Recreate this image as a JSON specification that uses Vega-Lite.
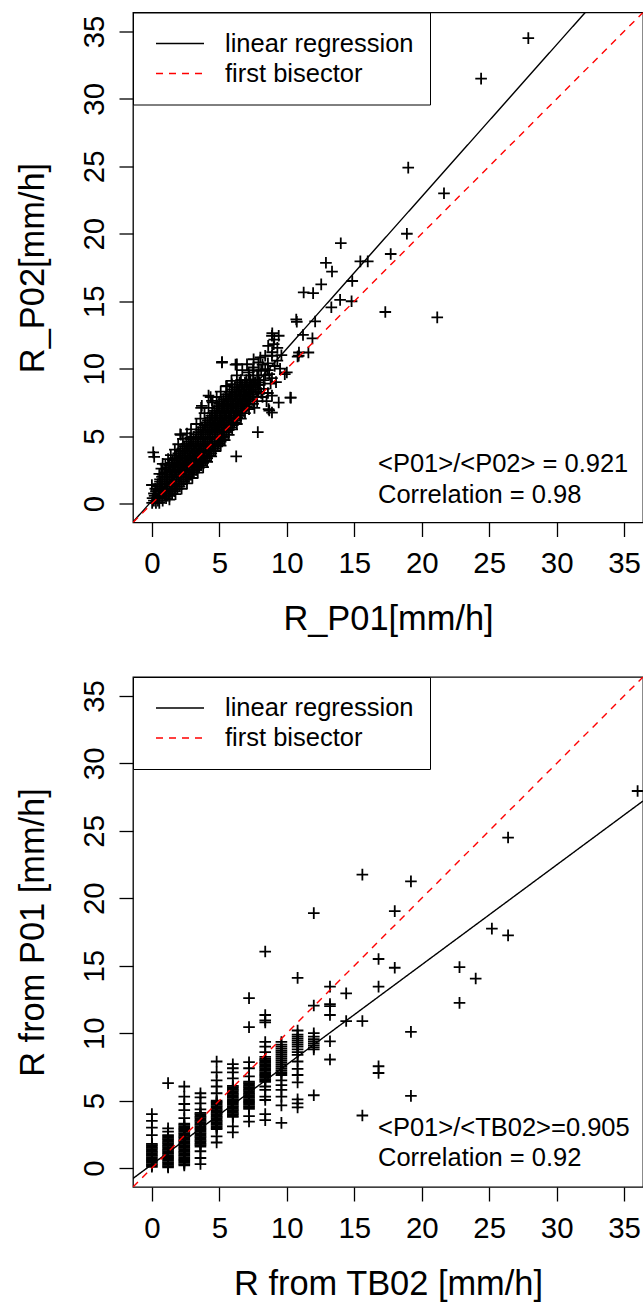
{
  "$schema": "https://vega.github.io/schema/vega-lite/v6.json",
  "background": "white",
  "padding": {"left": 14, "top": 10.5, "right": 2, "bottom": 1},
  "spacing": 154.5,
  "bounds": "flush",
  "config": {
    "font": "Liberation Sans",
    "view": {"stroke": "black", "strokeWidth": 1.3},
    "axis": {"grid": false, "domain": false, "tickColor": "black", "tickSize": 14, "tickWidth": 1.3, "labelFontSize": 29.4, "labelColor": "black", "labelFont": "Liberation Sans", "titleFont": "Liberation Sans", "titleFontSize": 34.4, "titleFontWeight": "normal", "titleColor": "black", "labelOverlap": false, "labelFlush": false},
    "axisX": {"labelPadding": 13, "titlePadding": 25},
    "axisY": {"labelAngle": 270, "labelAlign": "center", "labelBaseline": "alphabetic", "labelPadding": 16, "titleAngle": 270, "titleBaseline": "alphabetic", "titlePadding": 36},
    "legend": {"orient": "top-left", "offset": 0, "padding": 16, "strokeColor": "black", "fillColor": "white", "symbolType": "stroke", "symbolSize": 2304, "symbolStrokeWidth": 1.4, "labelFontSize": 25.5, "labelFont": "Liberation Sans", "labelColor": "black", "labelOffset": 20, "clipHeight": 30, "rowPadding": 0, "symbolOffset": 6, "labelLimit": 400}
  },
  "resolve": {"scale": {"color": "independent", "strokeDash": "independent"}, "legend": {"color": "independent", "strokeDash": "independent"}},
  "datasets": {
    "top_pts": [
      {"x":0.02,"y":0.05},{"x":0.3,"y":0.05},{"x":0.55,"y":0.05},
      {"x":0.15,"y":0.225},{"x":0.45,"y":0.225},{"x":0.8,"y":0.225},
      {"x":0.05,"y":0.4},{"x":0.4,"y":0.4},{"x":0.75,"y":0.4},{"x":1.05,"y":0.4},
      {"x":0.2,"y":0.575},{"x":0.6,"y":0.575},{"x":0.95,"y":0.575},{"x":1.3,"y":0.575},
      {"x":0.15,"y":0.75},{"x":0.5,"y":0.75},{"x":0.85,"y":0.75},{"x":1.2,"y":0.75},{"x":1.5,"y":0.75},
      {"x":0.3,"y":0.925},{"x":0.7,"y":0.925},{"x":1.05,"y":0.925},{"x":1.4,"y":0.925},{"x":1.7,"y":0.925},
      {"x":0.25,"y":1.1},{"x":0.6,"y":1.1},{"x":0.95,"y":1.1},{"x":1.3,"y":1.1},{"x":1.65,"y":1.1},{"x":1.9,"y":1.1},
      {"x":0.4,"y":1.275},{"x":0.75,"y":1.275},{"x":1.1,"y":1.275},{"x":1.45,"y":1.275},{"x":1.8,"y":1.275},{"x":2.05,"y":1.275},
      {"x":0.45,"y":1.45},{"x":0.8,"y":1.45},{"x":1.15,"y":1.45},{"x":1.5,"y":1.45},{"x":1.85,"y":1.45},{"x":2.2,"y":1.45},
      {"x":0.6,"y":1.625},{"x":0.95,"y":1.625},{"x":1.3,"y":1.625},{"x":1.65,"y":1.625},{"x":2.0,"y":1.625},{"x":2.35,"y":1.625},
      {"x":0.6,"y":1.8},{"x":0.95,"y":1.8},{"x":1.3,"y":1.8},{"x":1.65,"y":1.8},{"x":2.0,"y":1.8},{"x":2.35,"y":1.8},{"x":2.6,"y":1.8},
      {"x":0.75,"y":1.975},{"x":1.1,"y":1.975},{"x":1.45,"y":1.975},{"x":1.8,"y":1.975},{"x":2.15,"y":1.975},{"x":2.5,"y":1.975},{"x":2.75,"y":1.975},
      {"x":0.8,"y":2.15},{"x":1.15,"y":2.15},{"x":1.5,"y":2.15},{"x":1.85,"y":2.15},{"x":2.2,"y":2.15},{"x":2.55,"y":2.15},{"x":2.9,"y":2.15},
      {"x":0.95,"y":2.325},{"x":1.3,"y":2.325},{"x":1.65,"y":2.325},{"x":2.0,"y":2.325},{"x":2.35,"y":2.325},{"x":2.7,"y":2.325},{"x":3.05,"y":2.325},
      {"x":1.05,"y":2.5},{"x":1.4,"y":2.5},{"x":1.75,"y":2.5},{"x":2.1,"y":2.5},{"x":2.45,"y":2.5},{"x":2.8,"y":2.5},{"x":3.15,"y":2.5},{"x":3.3,"y":2.5},
      {"x":1.2,"y":2.675},{"x":1.55,"y":2.675},{"x":1.9,"y":2.675},{"x":2.25,"y":2.675},{"x":2.6,"y":2.675},{"x":2.95,"y":2.675},{"x":3.3,"y":2.675},{"x":3.5,"y":2.675},
      {"x":1.3,"y":2.85},{"x":1.65,"y":2.85},{"x":2.0,"y":2.85},{"x":2.35,"y":2.85},{"x":2.7,"y":2.85},{"x":3.05,"y":2.85},{"x":3.4,"y":2.85},{"x":3.65,"y":2.85},
      {"x":1.45,"y":3.025},{"x":1.8,"y":3.025},{"x":2.15,"y":3.025},{"x":2.5,"y":3.025},{"x":2.85,"y":3.025},{"x":3.2,"y":3.025},{"x":3.55,"y":3.025},{"x":3.8,"y":3.025},
      {"x":1.55,"y":3.2},{"x":1.9,"y":3.2},{"x":2.25,"y":3.2},{"x":2.6,"y":3.2},{"x":2.95,"y":3.2},{"x":3.3,"y":3.2},{"x":3.65,"y":3.2},{"x":3.95,"y":3.2},
      {"x":1.7,"y":3.375},{"x":2.05,"y":3.375},{"x":2.4,"y":3.375},{"x":2.75,"y":3.375},{"x":3.1,"y":3.375},{"x":3.45,"y":3.375},{"x":3.8,"y":3.375},{"x":4.1,"y":3.375},
      {"x":1.8,"y":3.55},{"x":2.15,"y":3.55},{"x":2.5,"y":3.55},{"x":2.85,"y":3.55},{"x":3.2,"y":3.55},{"x":3.55,"y":3.55},{"x":3.9,"y":3.55},{"x":4.25,"y":3.55},
      {"x":1.95,"y":3.725},{"x":2.3,"y":3.725},{"x":2.65,"y":3.725},{"x":3.0,"y":3.725},{"x":3.35,"y":3.725},{"x":3.7,"y":3.725},{"x":4.05,"y":3.725},{"x":4.4,"y":3.725},
      {"x":2.1,"y":3.9},{"x":2.45,"y":3.9},{"x":2.8,"y":3.9},{"x":3.15,"y":3.9},{"x":3.5,"y":3.9},{"x":3.85,"y":3.9},{"x":4.2,"y":3.9},{"x":4.55,"y":3.9},
      {"x":2.25,"y":4.075},{"x":2.6,"y":4.075},{"x":2.95,"y":4.075},{"x":3.3,"y":4.075},{"x":3.65,"y":4.075},{"x":4.0,"y":4.075},{"x":4.35,"y":4.075},{"x":4.7,"y":4.075},
      {"x":2.4,"y":4.25},{"x":2.75,"y":4.25},{"x":3.1,"y":4.25},{"x":3.45,"y":4.25},{"x":3.8,"y":4.25},{"x":4.15,"y":4.25},{"x":4.5,"y":4.25},{"x":4.85,"y":4.25},
      {"x":2.55,"y":4.425},{"x":2.9,"y":4.425},{"x":3.25,"y":4.425},{"x":3.6,"y":4.425},{"x":3.95,"y":4.425},{"x":4.3,"y":4.425},{"x":4.65,"y":4.425},{"x":4.95,"y":4.425},
      {"x":2.7,"y":4.6},{"x":3.05,"y":4.6},{"x":3.4,"y":4.6},{"x":3.75,"y":4.6},{"x":4.1,"y":4.6},{"x":4.45,"y":4.6},{"x":4.8,"y":4.6},{"x":5.1,"y":4.6},
      {"x":2.9,"y":4.775},{"x":3.25,"y":4.775},{"x":3.6,"y":4.775},{"x":3.95,"y":4.775},{"x":4.3,"y":4.775},{"x":4.65,"y":4.775},{"x":5.0,"y":4.775},{"x":5.25,"y":4.775},
      {"x":3.1,"y":4.95},{"x":3.45,"y":4.95},{"x":3.8,"y":4.95},{"x":4.15,"y":4.95},{"x":4.5,"y":4.95},{"x":4.85,"y":4.95},{"x":5.2,"y":4.95},{"x":5.35,"y":4.95},
      {"x":3.3,"y":5.125},{"x":3.65,"y":5.125},{"x":4.0,"y":5.125},{"x":4.35,"y":5.125},{"x":4.7,"y":5.125},{"x":5.05,"y":5.125},{"x":5.4,"y":5.125},
      {"x":3.45,"y":5.3},{"x":3.8,"y":5.3},{"x":4.15,"y":5.3},{"x":4.5,"y":5.3},{"x":4.85,"y":5.3},{"x":5.2,"y":5.3},{"x":5.55,"y":5.3},
      {"x":3.6,"y":5.475},{"x":3.95,"y":5.475},{"x":4.3,"y":5.475},{"x":4.65,"y":5.475},{"x":5.0,"y":5.475},{"x":5.35,"y":5.475},{"x":5.7,"y":5.475},
      {"x":3.75,"y":5.65},{"x":4.1,"y":5.65},{"x":4.45,"y":5.65},{"x":4.8,"y":5.65},{"x":5.15,"y":5.65},{"x":5.5,"y":5.65},{"x":5.85,"y":5.65},
      {"x":3.9,"y":5.825},{"x":4.25,"y":5.825},{"x":4.6,"y":5.825},{"x":4.95,"y":5.825},{"x":5.3,"y":5.825},{"x":5.65,"y":5.825},{"x":6.0,"y":5.825},
      {"x":4.0,"y":6.0},{"x":4.35,"y":6.0},{"x":4.7,"y":6.0},{"x":5.05,"y":6.0},{"x":5.4,"y":6.0},{"x":5.75,"y":6.0},{"x":6.1,"y":6.0},
      {"x":4.15,"y":6.175},{"x":4.5,"y":6.175},{"x":4.85,"y":6.175},{"x":5.2,"y":6.175},{"x":5.55,"y":6.175},{"x":5.9,"y":6.175},{"x":6.25,"y":6.175},
      {"x":4.3,"y":6.35},{"x":4.65,"y":6.35},{"x":5.0,"y":6.35},{"x":5.35,"y":6.35},{"x":5.7,"y":6.35},{"x":6.05,"y":6.35},{"x":6.35,"y":6.35},
      {"x":4.4,"y":6.525},{"x":4.75,"y":6.525},{"x":5.1,"y":6.525},{"x":5.45,"y":6.525},{"x":5.8,"y":6.525},{"x":6.15,"y":6.525},{"x":6.5,"y":6.525},
      {"x":4.5,"y":6.7},{"x":4.85,"y":6.7},{"x":5.2,"y":6.7},{"x":5.55,"y":6.7},{"x":5.9,"y":6.7},{"x":6.25,"y":6.7},{"x":6.6,"y":6.7},
      {"x":4.65,"y":6.875},{"x":5.0,"y":6.875},{"x":5.35,"y":6.875},{"x":5.7,"y":6.875},{"x":6.05,"y":6.875},{"x":6.4,"y":6.875},{"x":6.75,"y":6.875},
      {"x":4.8,"y":7.05},{"x":5.15,"y":7.05},{"x":5.5,"y":7.05},{"x":5.85,"y":7.05},{"x":6.2,"y":7.05},{"x":6.55,"y":7.05},{"x":6.85,"y":7.05},
      {"x":4.9,"y":7.225},{"x":5.25,"y":7.225},{"x":5.6,"y":7.225},{"x":5.95,"y":7.225},{"x":6.3,"y":7.225},{"x":6.65,"y":7.225},{"x":7.0,"y":7.225},
      {"x":5.0,"y":7.4},{"x":5.35,"y":7.4},{"x":5.7,"y":7.4},{"x":6.05,"y":7.4},{"x":6.4,"y":7.4},{"x":6.75,"y":7.4},{"x":7.1,"y":7.4},
      {"x":5.15,"y":7.575},{"x":5.5,"y":7.575},{"x":5.85,"y":7.575},{"x":6.2,"y":7.575},{"x":6.55,"y":7.575},{"x":6.9,"y":7.575},{"x":7.2,"y":7.575},
      {"x":5.3,"y":7.75},{"x":5.65,"y":7.75},{"x":6.0,"y":7.75},{"x":6.35,"y":7.75},{"x":6.7,"y":7.75},{"x":7.05,"y":7.75},{"x":7.3,"y":7.75},
      {"x":5.45,"y":7.925},{"x":5.8,"y":7.925},{"x":6.15,"y":7.925},{"x":6.5,"y":7.925},{"x":6.85,"y":7.925},{"x":7.2,"y":7.925},{"x":7.45,"y":7.925},
      {"x":5.55,"y":8.1},{"x":5.9,"y":8.1},{"x":6.25,"y":8.1},{"x":6.6,"y":8.1},{"x":6.95,"y":8.1},{"x":7.3,"y":8.1},{"x":7.55,"y":8.1},
      {"x":5.75,"y":8.275},{"x":6.1,"y":8.275},{"x":6.45,"y":8.275},{"x":6.8,"y":8.275},{"x":7.15,"y":8.275},{"x":7.5,"y":8.275},
      {"x":5.95,"y":8.45},{"x":6.3,"y":8.45},{"x":6.65,"y":8.45},{"x":7.0,"y":8.45},{"x":7.35,"y":8.45},{"x":7.7,"y":8.45},
      {"x":6.15,"y":8.625},{"x":6.5,"y":8.625},{"x":6.85,"y":8.625},{"x":7.2,"y":8.625},{"x":7.55,"y":8.625},
      {"x":6.35,"y":8.8},{"x":6.7,"y":8.8},{"x":7.05,"y":8.8},{"x":7.4,"y":8.8},{"x":7.8,"y":8.8},
      {"x":6.5,"y":8.975},{"x":6.9,"y":8.975},{"x":7.25,"y":8.975},{"x":7.65,"y":8.975},{"x":8.0,"y":8.975},
      {"x":6.6,"y":9.15},{"x":7.0,"y":9.15},{"x":7.5,"y":9.15},{"x":7.9,"y":9.15},{"x":8.3,"y":9.15},
      {"x":7.2,"y":9.5},{"x":7.8,"y":9.5},{"x":8.4,"y":9.5},
      {"x":7.5,"y":9.9},{"x":8.1,"y":9.9},{"x":8.6,"y":9.9},
      {"x":0.55,"y":2.2},{"x":0.7,"y":2.6},{"x":1.0,"y":2.9},{"x":1.2,"y":3.3},{"x":1.4,"y":3.6},{"x":1.7,"y":4.0},{"x":1.95,"y":4.4},{"x":2.3,"y":4.8},{"x":2.6,"y":5.2},{"x":2.9,"y":5.5},{"x":3.3,"y":5.9},{"x":3.6,"y":6.3},{"x":3.9,"y":6.7},{"x":4.2,"y":7.1},{"x":4.5,"y":7.5},{"x":4.8,"y":7.9},{"x":5.1,"y":8.3},{"x":5.5,"y":8.7},{"x":5.9,"y":9.1},{"x":6.3,"y":9.5},{"x":6.7,"y":9.9},
      {"x":1.3,"y":0.3},{"x":1.75,"y":0.7},{"x":2.2,"y":1.1},{"x":2.6,"y":1.5},{"x":3.0,"y":1.9},{"x":3.4,"y":2.3},{"x":3.8,"y":2.7},{"x":4.1,"y":3.1},{"x":4.4,"y":3.5},{"x":4.7,"y":3.9},{"x":5.1,"y":4.3},{"x":5.4,"y":4.7},{"x":5.7,"y":5.1},{"x":5.95,"y":5.5},{"x":6.3,"y":5.9},{"x":6.6,"y":6.3},{"x":6.9,"y":6.7},{"x":7.2,"y":7.0},{"x":7.5,"y":7.4},{"x":7.8,"y":7.9},{"x":8.1,"y":8.2},
      {"x":7.54,"y":10.09},{"x":7.91,"y":9.84},{"x":8.4,"y":9.96},{"x":8.04,"y":10.83},{"x":7.54,"y":10.7},{"x":7.9,"y":10.46},
      {"x":7.05,"y":10.33},{"x":7.17,"y":9.72},{"x":7.3,"y":9.2},{"x":7.66,"y":8.98},{"x":8.9,"y":10.96},{"x":8.4,"y":10.96},
      {"x":8.7,"y":9.6},{"x":9.1,"y":10.2},{"x":9.3,"y":10.6},{"x":8.6,"y":10.4},{"x":9.5,"y":10.0},{"x":9.6,"y":11.0},{"x":8.2,"y":10.3},
      {"x":8.8,"y":8.9},{"x":9.2,"y":9.0},{"x":7.9,"y":8.3},{"x":8.5,"y":7.6},{"x":8.9,"y":8.0},
      {"x":8.9,"y":12.44},{"x":9.4,"y":12.44},{"x":9.03,"y":11.82},{"x":9.3,"y":11.54},{"x":8.62,"y":11.69},{"x":8.92,"y":11.22},
      {"x":8.92,"y":12.63},{"x":9.07,"y":12.16},
      {"x":8.9,"y":6.75},{"x":9.4,"y":7.49},{"x":8.65,"y":7.0},{"x":10.26,"y":7.86},{"x":10.0,"y":9.72},{"x":9.85,"y":9.6},
      {"x":5.56,"y":8.73},{"x":5.93,"y":8.85},{"x":4.2,"y":8.0},{"x":3.7,"y":7.25},{"x":4.45,"y":7.62},{"x":6.3,"y":10.33},{"x":5.19,"y":10.46},
      {"x":8.3,"y":8.5},{"x":8.6,"y":8.2},{"x":8.0,"y":8.8},{"x":8.9,"y":9.3},{"x":7.8,"y":7.6},{"x":8.2,"y":7.9},{"x":7.6,"y":7.1},
      {"x":2.1,"y":5.14},{"x":2.84,"y":4.9},{"x":7.85,"y":5.3},{"x":6.25,"y":3.5},{"x":0.1,"y":3.8},{"x":0.17,"y":3.47},{"x":0.8,"y":2.95},{"x":0.0,"y":1.38},
      {"x":4.35,"y":7.9},{"x":3.65,"y":7.1},{"x":2.15,"y":5.1},{"x":5.2,"y":10.5},{"x":6.2,"y":10.3},
      {"x":10.7,"y":13.65},{"x":10.74,"y":13.48},{"x":12.1,"y":13.5},{"x":11.2,"y":12.5},{"x":11.9,"y":12.25},
      {"x":10.9,"y":11.2},{"x":10.8,"y":10.9},{"x":11.6,"y":11.2},{"x":10.88,"y":10.96},
      {"x":27.9,"y":34.5},{"x":24.4,"y":31.5},{"x":19.0,"y":24.9},{"x":21.65,"y":23.0},{"x":18.9,"y":20.0},
      {"x":14.0,"y":19.3},{"x":17.7,"y":18.5},{"x":15.45,"y":17.95},{"x":16.0,"y":17.95},{"x":12.9,"y":17.85},
      {"x":13.35,"y":17.2},{"x":12.55,"y":16.25},{"x":14.85,"y":16.5},{"x":11.25,"y":15.65},{"x":11.95,"y":15.6},
      {"x":13.95,"y":15.1},{"x":14.8,"y":15.0},{"x":13.3,"y":14.55},{"x":17.3,"y":14.2},{"x":21.15,"y":13.8},
      {"x":8.7,"y":6.9},{"x":10.3,"y":7.85}
    ],
    "top_lines": [
      {"series":"linear regression","x":-1.4,"y":-1.368},{"series":"linear regression","x":36.4,"y":41.23},
      {"series":"first bisector","x":-1.4,"y":-1.4},{"series":"first bisector","x":36.4,"y":36.4}
    ],
    "bot_pts": [
      {"x":0,"y":0.1},{"x":0,"y":0.2},{"x":0,"y":0.3},{"x":0,"y":0.4},{"x":0,"y":0.5},{"x":0,"y":0.6},{"x":0,"y":0.7},{"x":0,"y":0.8},{"x":0,"y":0.9},{"x":0,"y":1.0},{"x":0,"y":1.1},{"x":0,"y":1.2},{"x":0,"y":1.3},{"x":0,"y":1.4},{"x":0,"y":1.5},{"x":0,"y":1.6},{"x":0,"y":1.7},{"x":0,"y":1.8},
      {"x":0,"y":2.45},{"x":0,"y":3.0},{"x":0,"y":3.5},{"x":0,"y":4.0},
      {"x":1.2,"y":0.05},{"x":1.2,"y":0.15},{"x":1.2,"y":0.25},{"x":1.2,"y":0.35},{"x":1.2,"y":0.45},{"x":1.2,"y":0.55},{"x":1.2,"y":0.65},{"x":1.2,"y":0.75},{"x":1.2,"y":0.85},{"x":1.2,"y":0.95},{"x":1.2,"y":1.05},{"x":1.2,"y":1.15},{"x":1.2,"y":1.25},{"x":1.2,"y":1.35},{"x":1.2,"y":1.45},{"x":1.2,"y":1.55},{"x":1.2,"y":1.65},{"x":1.2,"y":1.75},{"x":1.2,"y":1.85},{"x":1.2,"y":1.95},{"x":1.2,"y":2.05},{"x":1.2,"y":2.15},{"x":1.2,"y":2.25},{"x":1.2,"y":2.35},{"x":1.2,"y":2.45},
      {"x":1.2,"y":2.7},{"x":1.2,"y":2.95},{"x":1.2,"y":6.3},
      {"x":2.4,"y":0.2},{"x":2.4,"y":0.3},{"x":2.4,"y":0.4},{"x":2.4,"y":0.5},{"x":2.4,"y":0.6},{"x":2.4,"y":0.7},{"x":2.4,"y":0.8},{"x":2.4,"y":0.9},{"x":2.4,"y":1.0},{"x":2.4,"y":1.1},{"x":2.4,"y":1.2},{"x":2.4,"y":1.3},{"x":2.4,"y":1.4},{"x":2.4,"y":1.5},{"x":2.4,"y":1.6},{"x":2.4,"y":1.7},{"x":2.4,"y":1.8},{"x":2.4,"y":1.9},{"x":2.4,"y":2.0},{"x":2.4,"y":2.1},{"x":2.4,"y":2.2},{"x":2.4,"y":2.3},{"x":2.4,"y":2.4},{"x":2.4,"y":2.5},{"x":2.4,"y":2.6},{"x":2.4,"y":2.7},{"x":2.4,"y":2.8},{"x":2.4,"y":2.9},{"x":2.4,"y":3.0},{"x":2.4,"y":3.1},{"x":2.4,"y":3.2},{"x":2.4,"y":3.3},
      {"x":2.4,"y":3.7},{"x":2.4,"y":4.3},{"x":2.4,"y":4.75},{"x":2.4,"y":5.3},{"x":2.4,"y":6.05},
      {"x":3.6,"y":0.3},{"x":3.6,"y":0.75},{"x":3.6,"y":1.25},
      {"x":3.6,"y":1.6},{"x":3.6,"y":1.7},{"x":3.6,"y":1.8},{"x":3.6,"y":1.9},{"x":3.6,"y":2.0},{"x":3.6,"y":2.1},{"x":3.6,"y":2.2},{"x":3.6,"y":2.3},{"x":3.6,"y":2.4},{"x":3.6,"y":2.5},{"x":3.6,"y":2.6},{"x":3.6,"y":2.7},{"x":3.6,"y":2.8},{"x":3.6,"y":2.9},{"x":3.6,"y":3.0},{"x":3.6,"y":3.1},{"x":3.6,"y":3.2},{"x":3.6,"y":3.3},{"x":3.6,"y":3.4},{"x":3.6,"y":3.5},{"x":3.6,"y":3.6},{"x":3.6,"y":3.7},{"x":3.6,"y":3.8},{"x":3.6,"y":3.9},{"x":3.6,"y":4.0},{"x":3.6,"y":4.1},
      {"x":3.6,"y":4.35},{"x":3.6,"y":4.8},{"x":3.6,"y":5.25},{"x":3.6,"y":5.55},
      {"x":4.8,"y":1.9},{"x":4.8,"y":2.35},
      {"x":4.8,"y":2.9},{"x":4.8,"y":3.0},{"x":4.8,"y":3.1},{"x":4.8,"y":3.2},{"x":4.8,"y":3.3},{"x":4.8,"y":3.4},{"x":4.8,"y":3.5},{"x":4.8,"y":3.6},{"x":4.8,"y":3.7},{"x":4.8,"y":3.8},{"x":4.8,"y":3.9},{"x":4.8,"y":4.0},{"x":4.8,"y":4.1},{"x":4.8,"y":4.2},{"x":4.8,"y":4.3},{"x":4.8,"y":4.4},{"x":4.8,"y":4.5},{"x":4.8,"y":4.6},{"x":4.8,"y":4.7},{"x":4.8,"y":4.8},{"x":4.8,"y":4.9},{"x":4.8,"y":5.0},
      {"x":4.8,"y":5.55},{"x":4.8,"y":6.05},{"x":4.8,"y":6.5},{"x":4.8,"y":7.1},{"x":4.8,"y":7.9},
      {"x":6.0,"y":2.65},{"x":6.0,"y":3.1},
      {"x":6.0,"y":3.8},{"x":6.0,"y":3.9},{"x":6.0,"y":4.0},{"x":6.0,"y":4.1},{"x":6.0,"y":4.2},{"x":6.0,"y":4.3},{"x":6.0,"y":4.4},{"x":6.0,"y":4.5},{"x":6.0,"y":4.6},{"x":6.0,"y":4.7},{"x":6.0,"y":4.8},{"x":6.0,"y":4.9},{"x":6.0,"y":5.0},{"x":6.0,"y":5.1},{"x":6.0,"y":5.2},{"x":6.0,"y":5.3},{"x":6.0,"y":5.4},{"x":6.0,"y":5.5},{"x":6.0,"y":5.6},{"x":6.0,"y":5.7},{"x":6.0,"y":5.8},{"x":6.0,"y":5.9},{"x":6.0,"y":6.0},{"x":6.0,"y":6.1},
      {"x":6.0,"y":6.65},{"x":6.0,"y":7.1},{"x":6.0,"y":7.4},{"x":6.0,"y":7.7},
      {"x":7.2,"y":3.45},{"x":7.2,"y":3.85},
      {"x":7.2,"y":4.4},{"x":7.2,"y":4.5},{"x":7.2,"y":4.6},{"x":7.2,"y":4.7},{"x":7.2,"y":4.8},{"x":7.2,"y":4.9},{"x":7.2,"y":5.0},{"x":7.2,"y":5.1},{"x":7.2,"y":5.2},{"x":7.2,"y":5.3},{"x":7.2,"y":5.4},{"x":7.2,"y":5.5},{"x":7.2,"y":5.6},{"x":7.2,"y":5.7},{"x":7.2,"y":5.8},{"x":7.2,"y":5.9},{"x":7.2,"y":6.0},{"x":7.2,"y":6.1},{"x":7.2,"y":6.2},{"x":7.2,"y":6.3},{"x":7.2,"y":6.4},
      {"x":7.2,"y":6.8},{"x":7.2,"y":7.4},{"x":7.2,"y":7.85},{"x":7.2,"y":10.45},{"x":7.2,"y":12.6},
      {"x":8.4,"y":3.55},{"x":8.4,"y":4.0},{"x":8.4,"y":5.05},{"x":8.4,"y":5.3},{"x":8.4,"y":5.8},{"x":8.4,"y":6.05},
      {"x":8.4,"y":6.4},{"x":8.4,"y":6.5},{"x":8.4,"y":6.6},{"x":8.4,"y":6.7},{"x":8.4,"y":6.8},{"x":8.4,"y":6.9},{"x":8.4,"y":7.0},{"x":8.4,"y":7.1},{"x":8.4,"y":7.2},{"x":8.4,"y":7.3},{"x":8.4,"y":7.4},{"x":8.4,"y":7.5},{"x":8.4,"y":7.6},{"x":8.4,"y":7.7},{"x":8.4,"y":7.8},{"x":8.4,"y":7.9},{"x":8.4,"y":8.0},{"x":8.4,"y":8.1},
      {"x":8.4,"y":8.25},{"x":8.4,"y":8.6},{"x":8.4,"y":9.0},{"x":8.4,"y":9.35},{"x":8.4,"y":10.8},{"x":8.4,"y":10.95},{"x":8.4,"y":11.35},{"x":8.4,"y":16.05},
      {"x":9.6,"y":3.35},{"x":9.6,"y":4.65},{"x":9.6,"y":5.3},{"x":9.6,"y":5.8},{"x":9.6,"y":6.15},{"x":9.6,"y":6.5},
      {"x":9.6,"y":6.9},{"x":9.6,"y":7.05},{"x":9.6,"y":7.2},{"x":9.6,"y":7.35},{"x":9.6,"y":7.5},{"x":9.6,"y":7.65},{"x":9.6,"y":7.8},{"x":9.6,"y":7.95},{"x":9.6,"y":8.1},{"x":9.6,"y":8.25},{"x":9.6,"y":8.4},{"x":9.6,"y":8.55},{"x":9.6,"y":8.7},{"x":9.6,"y":8.85},{"x":9.6,"y":9.0},{"x":9.6,"y":9.15},{"x":9.6,"y":9.35},
      {"x":10.8,"y":4.5},{"x":10.8,"y":4.8},{"x":10.8,"y":5.1},{"x":10.8,"y":6.35},{"x":10.8,"y":6.9},{"x":10.8,"y":7.35},{"x":10.8,"y":7.9},{"x":10.8,"y":8.4},{"x":10.8,"y":8.6},{"x":10.8,"y":8.8},{"x":10.8,"y":9.0},{"x":10.8,"y":9.15},{"x":10.8,"y":9.3},{"x":10.8,"y":9.45},{"x":10.8,"y":9.6},{"x":10.8,"y":9.75},{"x":10.8,"y":9.9},{"x":10.8,"y":10.2},{"x":10.8,"y":14.1},
      {"x":12.0,"y":5.4},{"x":12.0,"y":8.8},{"x":12.0,"y":8.95},{"x":12.0,"y":9.1},{"x":12.0,"y":9.25},{"x":12.0,"y":9.4},{"x":12.0,"y":9.55},{"x":12.0,"y":9.75},{"x":12.0,"y":10.0},{"x":12.0,"y":12.05},{"x":12.0,"y":18.9},
      {"x":13.2,"y":8.05},{"x":13.2,"y":9.4},{"x":13.2,"y":11.35},{"x":13.2,"y":12.0},{"x":13.2,"y":12.15},{"x":13.2,"y":13.45},
      {"x":14.4,"y":10.9},{"x":14.4,"y":12.95},
      {"x":15.6,"y":3.9},{"x":15.6,"y":10.9},{"x":15.6,"y":21.75},
      {"x":16.8,"y":7.05},{"x":16.8,"y":7.55},{"x":16.8,"y":13.45},{"x":16.8,"y":15.5},
      {"x":18.0,"y":14.85},{"x":18.0,"y":19.05},
      {"x":19.2,"y":5.35},{"x":19.2,"y":10.1},{"x":19.2,"y":21.25},
      {"x":22.8,"y":12.25},{"x":22.8,"y":14.9},
      {"x":24.0,"y":14.05},
      {"x":25.2,"y":17.75},
      {"x":26.4,"y":17.25},{"x":26.4,"y":24.5},
      {"x":36.0,"y":27.95}
    ],
    "bot_lines": [
      {"series":"linear regression","x":-1.4,"y":-0.766},{"series":"linear regression","x":36.4,"y":27.21},
      {"series":"first bisector","x":-1.4,"y":-1.4},{"series":"first bisector","x":36.4,"y":36.4}
    ]
  },
  "vconcat": [
    {
      "width": 510,
      "height": 510,
      "layer": [
        {
          "data": {"name": "top_pts"},
          "mark": {"type": "point", "shape": "M-1,0H1M0,-1V1", "size": 135, "filled": false, "stroke": "black", "strokeWidth": 1.8, "opacity": 1, "clip": true},
          "encoding": {
            "x": {"field": "x", "type": "quantitative", "scale": {"domain": [-1.4, 36.4], "nice": false, "zero": false}, "axis": {"title": "R_P01[mm/h]", "values": [0,5,10,15,20,25,30,35]}},
            "y": {"field": "y", "type": "quantitative", "scale": {"domain": [-1.4, 36.4], "nice": false, "zero": false}, "axis": {"title": "R_P02[mm/h]", "values": [0,5,10,15,20,25,30,35]}}
          }
        },
        {
          "data": {"name": "top_lines"},
          "mark": {"type": "line", "clip": true, "strokeWidth": 1.4},
          "encoding": {
            "x": {"field": "x", "type": "quantitative"},
            "y": {"field": "y", "type": "quantitative"},
            "color": {"field": "series", "type": "nominal", "scale": {"domain": ["linear regression", "first bisector"], "range": ["black", "#ff0000"]}, "legend": {"title": null}},
            "strokeDash": {"field": "series", "type": "nominal", "scale": {"domain": ["linear regression", "first bisector"], "range": [[1, 0], [7, 6]]}, "legend": {"title": null}}
          }
        },
        {
          "data": {"values": [{}]},
          "mark": {"type": "text", "align": "left", "baseline": "alphabetic", "fontSize": 25.5, "font": "Liberation Sans", "color": "black"},
          "encoding": {"x": {"datum": 16.76}, "y": {"datum": 2.31}, "text": {"value": "<P01>/<P02> = 0.921"}}
        },
        {
          "data": {"values": [{}]},
          "mark": {"type": "text", "align": "left", "baseline": "alphabetic", "fontSize": 25.5, "font": "Liberation Sans", "color": "black"},
          "encoding": {"x": {"datum": 16.76}, "y": {"datum": 0.06}, "text": {"value": "Correlation = 0.98"}}
        }
      ]
    },
    {
      "width": 510,
      "height": 510,
      "layer": [
        {
          "data": {"name": "bot_pts"},
          "mark": {"type": "point", "shape": "M-1,0H1M0,-1V1", "size": 135, "filled": false, "stroke": "black", "strokeWidth": 1.8, "opacity": 1, "clip": true},
          "encoding": {
            "x": {"field": "x", "type": "quantitative", "scale": {"domain": [-1.4, 36.4], "nice": false, "zero": false}, "axis": {"title": "R from TB02 [mm/h]", "values": [0,5,10,15,20,25,30,35]}},
            "y": {"field": "y", "type": "quantitative", "scale": {"domain": [-1.4, 36.4], "nice": false, "zero": false}, "axis": {"title": "R from P01 [mm/h]", "values": [0,5,10,15,20,25,30,35]}}
          }
        },
        {
          "data": {"name": "bot_lines"},
          "mark": {"type": "line", "clip": true, "strokeWidth": 1.4},
          "encoding": {
            "x": {"field": "x", "type": "quantitative"},
            "y": {"field": "y", "type": "quantitative"},
            "color": {"field": "series", "type": "nominal", "scale": {"domain": ["linear regression", "first bisector"], "range": ["black", "#ff0000"]}, "legend": {"title": null}},
            "strokeDash": {"field": "series", "type": "nominal", "scale": {"domain": ["linear regression", "first bisector"], "range": [[1, 0], [7, 6]]}, "legend": {"title": null}}
          }
        },
        {
          "data": {"values": [{}]},
          "mark": {"type": "text", "align": "left", "baseline": "alphabetic", "fontSize": 25.5, "font": "Liberation Sans", "color": "black"},
          "encoding": {"x": {"datum": 16.76}, "y": {"datum": 2.39}, "text": {"value": "<P01>/<TB02>=0.905"}}
        },
        {
          "data": {"values": [{}]},
          "mark": {"type": "text", "align": "left", "baseline": "alphabetic", "fontSize": 25.5, "font": "Liberation Sans", "color": "black"},
          "encoding": {"x": {"datum": 16.76}, "y": {"datum": 0.16}, "text": {"value": "Correlation = 0.92"}}
        }
      ]
    }
  ]
}
